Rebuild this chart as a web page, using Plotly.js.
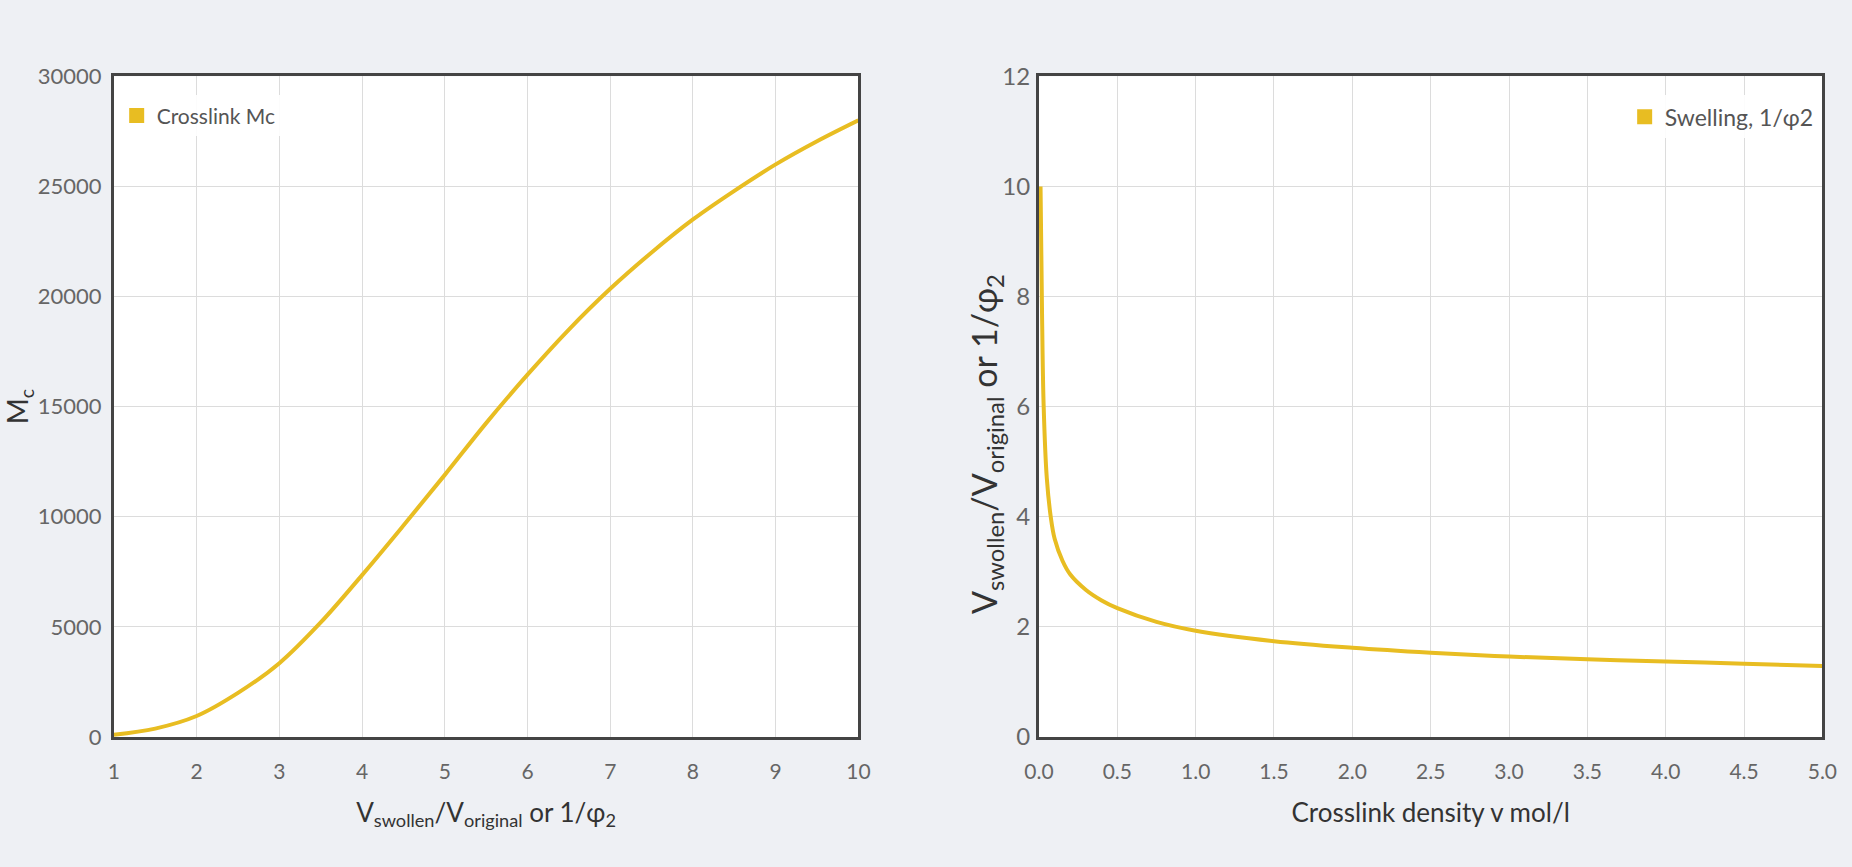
<!DOCTYPE html>
<html><head><meta charset="utf-8">
<script src="https://cdn.plot.ly/plotly-3.0.1.min.js"></script>
<style>html,body{margin:0;padding:0;background:#eef0f4;}#chart{width:1852px;height:867px;}</style>
</head><body><div id="chart"></div>
<script>
// Left chart: Mc vs swelling ratio
const swellRatio = [1, 1.5, 2, 2.5, 3, 3.5, 4, 4.5, 5, 5.5, 6, 6.5, 7, 7.5, 8, 8.5, 9, 9.5, 10];
const mcValues = [100, 380, 950, 2000, 3350, 5200, 7350, 9600, 11900, 14250, 16450, 18500, 20350, 22000, 23500, 24800, 26000, 27050, 28000];
// Right chart: swelling vs crosslink density
const crosslinkDensity = [0.01, 0.02, 0.03, 0.05, 0.075, 0.1, 0.15, 0.2, 0.3, 0.4, 0.5, 0.75, 1, 1.5, 2, 2.5, 3, 3.5, 4, 4.5, 5];
const swelling = [10, 7.6, 6.0, 4.7, 4.0, 3.6, 3.2, 2.95, 2.67, 2.48, 2.34, 2.09, 1.93, 1.74, 1.62, 1.53, 1.46, 1.41, 1.37, 1.33, 1.29];
const name1 = 'Crosslink Mc';
const name2 = 'Swelling, 1/φ2';
const xTitle1 = 'V<sub>swollen</sub>/V<sub>original</sub> or 1/φ<sub>2</sub>';
const yTitle1 = 'M<sub>c</sub>';
const xTitle2 = 'Crosslink density v mol/l';
const yTitle2 = 'V<sub>swollen</sub>/V<sub>original</sub> or 1/φ<sub>2</sub>';

const lineColor = '#e8bd22';
const FONT = 'Lato, "Open Sans", sans-serif';

const traces = [
  {x: swellRatio, y: mcValues, type: 'scatter', mode: 'lines', line: {color: lineColor, width: 4, shape: 'spline', smoothing: 1}, xaxis: 'x', yaxis: 'y', showlegend: false},
  {x: [null], y: [null], type: 'scatter', mode: 'markers', name: name1, marker: {symbol: 'square', size: 15, color: lineColor}, xaxis: 'x', yaxis: 'y', legend: 'legend'},
  {x: crosslinkDensity, y: swelling, type: 'scatter', mode: 'lines', line: {color: lineColor, width: 4, shape: 'spline', smoothing: 1}, xaxis: 'x2', yaxis: 'y2', showlegend: false},
  {x: [null], y: [null], type: 'scatter', mode: 'markers', name: name2, marker: {symbol: 'square', size: 15, color: lineColor}, xaxis: 'x2', yaxis: 'y2', legend: 'legend2'}
];

const axBase = {
  showline: true, linecolor: '#444', linewidth: 3, mirror: true,
  showgrid: true, gridcolor: '#dcdcdc', gridwidth: 1,
  zeroline: false, ticks: 'outside', tickcolor: 'rgba(0,0,0,0)', automargin: false,
  tickfont: {family: FONT, size: 21, color: '#666'}
};
const titleFont = {family: FONT, size: 26, color: '#333'};

const layout = {
  width: 1852, height: 867,
  paper_bgcolor: '#eef0f4', plot_bgcolor: '#ffffff',
  margin: {l: 0, r: 0, t: 0, b: 0},
  font: {family: FONT},
  xaxis: Object.assign({}, axBase, {domain: [0.0615, 0.4635], range: [1, 10], dtick: 1, anchor: 'y', ticklen: 14,
    title: {text: xTitle1, font: titleFont, standoff: 22}}),
  yaxis: Object.assign({}, axBase, {domain: [0.15, 0.912], range: [0, 30000], dtick: 5000, tickformat: 'd', anchor: 'x', ticklen: 5,
    tickfont: {family: FONT, size: 22, color: '#666'},
    title: {text: yTitle1, font: {family: FONT, size: 28, color: '#333'}, standoff: 0}}),
  xaxis2: Object.assign({}, axBase, {domain: [0.561, 0.984], range: [0, 5], dtick: 0.5, tickformat: '.1f', anchor: 'y2', ticklen: 14,
    title: {text: xTitle2, font: titleFont, standoff: 22}}),
  yaxis2: Object.assign({}, axBase, {domain: [0.15, 0.912], range: [0, 12], dtick: 2, anchor: 'x2', ticklen: 1,
    tickfont: {family: FONT, size: 24, color: '#666'}}),
  annotations: [
    {text: yTitle2, xref: 'paper', yref: 'paper', x: 0.5325, y: 0.488, xanchor: 'center', yanchor: 'middle',
     textangle: -90, showarrow: false, font: {family: FONT, size: 34, color: '#333'}}
  ],
  legend: {x: 0.063, y: 0.89, xanchor: 'left', yanchor: 'top', bgcolor: 'rgba(255,255,255,0.9)',
    font: {family: FONT, size: 21, color: '#555'}},
  legend2: {x: 0.982, y: 0.89, xanchor: 'right', yanchor: 'top', bgcolor: 'rgba(255,255,255,0.9)',
    font: {family: FONT, size: 23, color: '#555'}}
};

Plotly.newPlot('chart', traces, layout, {displayModeBar: false, staticPlot: true});
</script></body></html>
